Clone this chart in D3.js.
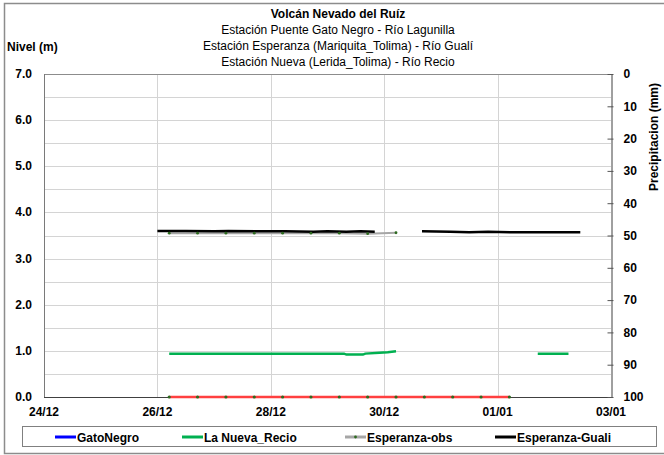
<!DOCTYPE html>
<html>
<head>
<meta charset="utf-8">
<script src="https://cdn.jsdelivr.net/npm/d3@7"></script>
<style>
body { margin: 0; background: #fff; }
svg text { font-family: "Liberation Sans", Arial, sans-serif; fill: #000; }
</style>
</head>
<body>
<div id="chart"></div>
<script>
// chart values
var titleLines = ["Volcán Nevado del Ruíz",
    "Estación Puente Gato Negro - Río Lagunilla",
    "Estación Esperanza (Mariquita_Tolima) - Río Gualí",
    "Estación Nueva (Lerida_Tolima) - Río Recio"]
var xTicks = ["2012-12-24", "2012-12-26", "2012-12-28", "2012-12-30", "2013-01-01", "2013-01-03"]
var yLeftTicks = [0, 1, 2, 3, 4, 5, 6, 7]
var yLeftGrid = [0.5, 1, 1.5, 2, 2.5, 3, 3.5, 4, 4.5, 5, 5.5, 6, 6.5]
var yRightTicks = [0, 10, 20, 30, 40, 50, 60, 70, 80, 90, 100]
var legendNames = ["GatoNegro", "La Nueva_Recio", "Esperanza-obs", "Esperanza-Guali"]

var gatoNegro = []
var recio = [
    ["2012-12-26 05:00", 0.94], ["2012-12-29 07:00", 0.94], ["2012-12-29 08:00", 0.92],
    ["2012-12-29 15:00", 0.92], ["2012-12-29 16:00", 0.94], ["2012-12-29 22:00", 0.96],
    ["2012-12-30 01:30", 0.97], ["2012-12-30 05:00", 0.99], ["2012-12-30 06:00", null],
    ["2013-01-01 17:00", 0.94], ["2013-01-02 06:00", 0.94]]
var espObs = [
    ["2012-12-26 05:00", 3.55], ["2012-12-26 17:00", 3.55], ["2012-12-27 05:00", 3.55],
    ["2012-12-27 17:00", 3.55], ["2012-12-28 05:00", 3.55], ["2012-12-28 17:00", 3.55],
    ["2012-12-29 05:00", 3.55], ["2012-12-29 17:00", 3.54], ["2012-12-30 05:00", 3.56]]
var espGuali = [
    ["2012-12-26 00:00", 3.60], ["2012-12-26 12:00", 3.60], ["2012-12-27 00:00", 3.59],
    ["2012-12-27 06:00", 3.60], ["2012-12-27 18:00", 3.59], ["2012-12-28 06:00", 3.59],
    ["2012-12-28 18:00", 3.58], ["2012-12-29 00:00", 3.59], ["2012-12-29 08:00", 3.58],
    ["2012-12-29 14:00", 3.59], ["2012-12-29 20:00", 3.58], ["2012-12-30 00:00", null],
    ["2012-12-30 16:00", 3.59], ["2012-12-31 04:00", 3.58], ["2012-12-31 12:00", 3.57],
    ["2012-12-31 20:00", 3.58], ["2013-01-01 06:00", 3.57], ["2013-01-01 18:00", 3.57],
    ["2013-01-02 11:00", 3.57]]
// red base line (not in legend)
var baseLine = [
    ["2012-12-26 05:00", 0], ["2012-12-26 17:00", 0], ["2012-12-27 05:00", 0],
    ["2012-12-27 17:00", 0], ["2012-12-28 05:00", 0], ["2012-12-28 17:00", 0],
    ["2012-12-29 05:00", 0], ["2012-12-29 17:00", 0], ["2012-12-30 05:00", 0],
    ["2012-12-30 17:00", 0], ["2012-12-31 05:00", 0], ["2012-12-31 17:00", 0],
    ["2013-01-01 05:00", 0]]

var W = 664, H = 455
var pLeft = 44, pRight = 611, pTop = 74, pBottom = 397
var parseT = d3.timeParse("%Y-%m-%d %H:%M")
var parseD = d3.timeParse("%Y-%m-%d")
var fmt = d3.timeFormat("%d/%m")

var svg = d3.select("#chart").append("svg").attr("width", W).attr("height", H)

// outer frame
svg.append("rect").attr("x", 4.5).attr("y", 3.5).attr("width", W).attr("height", 450)
    .attr("fill", "none").attr("stroke", "#8c8c8c").attr("stroke-width", 1.5)

var x = d3.scaleTime().domain([parseD(xTicks[0]), parseD(xTicks[xTicks.length - 1])]).range([pLeft, pRight])
var y = d3.scaleLinear().domain([0, 7]).range([pBottom, pTop])
var y2 = d3.scaleLinear().domain([0, 100]).range([pTop, pBottom])

// grid
svg.append("g").selectAll("line").data(yLeftGrid).enter().append("line")
    .attr("x1", pLeft).attr("x2", pRight)
    .attr("y1", function(d) { return Math.round(y(d)) + 0.5 })
    .attr("y2", function(d) { return Math.round(y(d)) + 0.5 })
    .attr("stroke", "#d4d4d4").attr("stroke-width", 1)
svg.append("g").selectAll("line").data(xTicks.slice(1, -1)).enter().append("line")
    .attr("x1", function(d) { return Math.round(x(parseD(d))) + 0.5 })
    .attr("x2", function(d) { return Math.round(x(parseD(d))) + 0.5 })
    .attr("y1", pTop).attr("y2", pBottom)
    .attr("stroke", "#d4d4d4").attr("stroke-width", 1)

// plot border lines
svg.append("line").attr("x1", pLeft).attr("x2", pRight).attr("y1", pTop + 0.5).attr("y2", pTop + 0.5)
    .attr("stroke", "#8c8c8c")
svg.append("line").attr("x1", pLeft + 0.5).attr("x2", pLeft + 0.5).attr("y1", pTop).attr("y2", pBottom)
    .attr("stroke", "#7a7a7a")
svg.append("line").attr("x1", pLeft).attr("x2", pRight).attr("y1", pBottom + 0.5).attr("y2", pBottom + 0.5)
    .attr("stroke", "#404040")

// left axis labels
svg.append("g").selectAll("text").data(yLeftTicks).enter().append("text")
    .attr("x", 32).attr("y", function(d) { return y(d) + 4 })
    .attr("text-anchor", "end").attr("font-size", "12px").attr("font-weight", "bold")
    .text(function(d) { return d.toFixed(1) })

// right axis
var yAxisR = d3.axisRight(y2).tickValues(yRightTicks).tickSize(0).tickPadding(12)
var gR = svg.append("g").attr("transform", "translate(" + (pRight + 0.5) + ",0)").call(yAxisR)
gR.select(".domain").attr("stroke", "#404040")
gR.selectAll(".tick text").attr("font-size", "12px").attr("font-weight", "bold")
    .attr("font-family", "Liberation Sans, Arial, sans-serif").attr("fill", "#000")
gR.selectAll(".tick").append("line").attr("x1", -4).attr("x2", 2).attr("stroke", "#555")

// x axis labels
svg.append("g").selectAll("text").data(xTicks).enter().append("text")
    .attr("x", function(d) { return x(parseD(d)) }).attr("y", 416)
    .attr("text-anchor", "middle").attr("font-size", "12px").attr("font-weight", "bold")
    .text(function(d) { return fmt(parseD(d)) })

// titles
svg.append("g").selectAll("text").data(titleLines).enter().append("text")
    .attr("x", 338).attr("y", function(d, i) { return 18 + i * 16 })
    .attr("text-anchor", "middle").attr("font-size", "12px")
    .attr("font-weight", function(d, i) { return i == 0 ? "bold" : "normal" })
    .text(function(d) { return d })
svg.append("text").attr("x", 7).attr("y", 51).attr("font-size", "12px").attr("font-weight", "bold")
    .text("Nivel (m)")
svg.append("text").attr("transform", "translate(658,137) rotate(-90)")
    .attr("text-anchor", "middle").attr("font-size", "12px").attr("font-weight", "bold")
    .text("Precipitacion (mm)")

// series
var line = d3.line()
    .defined(function(d) { return d[1] != null })
    .x(function(d) { return x(parseT(d[0])) })
    .y(function(d) { return y(d[1]) })

svg.append("path").datum(baseLine).attr("d", line)
    .attr("fill", "none").attr("stroke", "#ff4040").attr("stroke-width", 2.5)
svg.append("g").selectAll("circle").data(baseLine).enter().append("circle")
    .attr("cx", function(d) { return x(parseT(d[0])) }).attr("cy", function(d) { return y(d[1]) })
    .attr("r", 1.6).attr("fill", "#2d6a1f")

svg.append("path").datum(recio).attr("d", line)
    .attr("fill", "none").attr("stroke", "#00b050").attr("stroke-width", 2.5)

svg.append("path").datum(espObs).attr("d", line)
    .attr("fill", "none").attr("stroke", "#a6a6a6").attr("stroke-width", 2)
svg.append("path").datum(espGuali).attr("d", line)
    .attr("fill", "none").attr("stroke", "#000").attr("stroke-width", 2.5)
svg.append("g").selectAll("circle").data(espObs).enter().append("circle")
    .attr("cx", function(d) { return x(parseT(d[0])) }).attr("cy", function(d) { return y(d[1]) })
    .attr("r", 1.4).attr("fill", "#2d6a1f")

svg.append("path").datum(gatoNegro).attr("d", line)
    .attr("fill", "none").attr("stroke", "#0000ff").attr("stroke-width", 2.5)

// legend
svg.append("rect").attr("x", 22.5).attr("y", 426.5).attr("width", 634).attr("height", 20)
    .attr("fill", "#fff").attr("stroke", "#808080")
var legColors = ["#0000ff", "#00b050", "#a6a6a6", "#000"]
var legX = [55, 182, 345, 495]
legendNames.forEach(function(name, i) {
    svg.append("line").attr("x1", legX[i]).attr("x2", legX[i] + 21).attr("y1", 437).attr("y2", 437)
        .attr("stroke", legColors[i]).attr("stroke-width", 3)
    if (i == 2) {
        svg.append("circle").attr("cx", legX[i] + 10.5).attr("cy", 437).attr("r", 1.4).attr("fill", "#2d6a1f")
    }
    svg.append("text").attr("x", legX[i] + 22).attr("y", 441.5)
        .attr("font-size", "12px").attr("font-weight", "bold").text(name)
})
</script>
</body>
</html>
